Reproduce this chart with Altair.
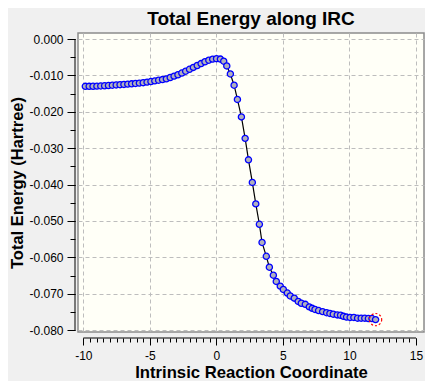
import altair as alt
import pandas as pd

# IRC points
irc_x = [-9.85, -9.56, -9.27, -8.98, -8.69, -8.40, -8.11, -7.82, -7.53, -7.24,
         -6.95, -6.66, -6.37, -6.08, -5.79, -5.50, -5.21, -4.92, -4.63, -4.34,
         -4.05, -3.76, -3.47, -3.18, -2.89, -2.60, -2.31, -2.02, -1.73, -1.44,
         -1.15, -0.86, -0.57, -0.28, 0.01, 0.30, 0.55, 0.78, 1.05, 1.33,
         1.58, 1.88, 2.16, 2.41, 2.70, 2.96, 3.23, 3.43, 3.75, 3.98,
         4.28, 4.50, 4.80, 5.03, 5.33, 5.55, 5.85, 6.15, 6.38, 6.68,
         6.98, 7.20, 7.41, 7.68, 7.98, 8.28, 8.53, 8.78, 9.08, 9.33,
         9.55, 9.78, 10.05, 10.33, 10.61, 10.88, 11.15, 11.42, 11.69, 11.96]
irc_e = [-0.01300, -0.01300, -0.01298, -0.01295, -0.01290, -0.01285, -0.01278, -0.01270, -0.01262, -0.01255,
         -0.01248, -0.01240, -0.01232, -0.01222, -0.01212, -0.01200, -0.01185, -0.01168, -0.01150, -0.01132,
         -0.01115, -0.01095, -0.01058, -0.01020, -0.00982, -0.00935, -0.00885, -0.00832, -0.00780, -0.00728,
         -0.00675, -0.00625, -0.00583, -0.00553, -0.00540, -0.00552, -0.00610, -0.00740, -0.00960, -0.01270,
         -0.01660, -0.02140, -0.02730, -0.03320, -0.03940, -0.04530, -0.05090, -0.05590, -0.05970, -0.06270,
         -0.06490, -0.06660, -0.06790, -0.06880, -0.06980, -0.07060, -0.07120, -0.07210, -0.07260, -0.07290,
         -0.07360, -0.07400, -0.07430, -0.07460, -0.07490, -0.07520, -0.07540, -0.07560, -0.07580, -0.07590,
         -0.07620, -0.07640, -0.07650, -0.07650, -0.07670, -0.07670, -0.07670, -0.07680, -0.07680, -0.07710]

x_major = [-10, -5, 0, 5, 10, 15]
x_minor = [v / 2 for v in range(-20, 31)]
y_major = [0.0, -0.01, -0.02, -0.03, -0.04, -0.05, -0.06, -0.07, -0.08]
y_minor = [-v / 1000 for v in range(0, 81, 5)]

df = pd.DataFrame({"x": irc_x, "e": irc_e})
last = df.tail(1)

FONT = "Liberation Sans"
W, H = 346, 299
xdom = [-10.4, 15.6]
ydom = [-0.0805, 0.00165]

xs = alt.Scale(domain=xdom, nice=False, zero=False)
ys = alt.Scale(domain=ydom, nice=False, zero=False)

x_main = alt.X("x:Q", scale=xs, axis=alt.Axis(
    values=x_major, orient="bottom", offset=6, domain=False, tickSize=7, tickColor="black",
    labelExpr="replace(format(datum.value, 'd'), '\u2212', '-')",
    labelFont=FONT, labelFontSize=12, labelColor="black", labelPadding=5, labelFlush=False,
    grid=True, gridColor="#BDBDBD", gridDash=[4, 3], gridWidth=1,
    title="Intrinsic Reaction Coordinate", titleFont=FONT, titleFontSize=16.7,
    titleFontWeight="bold", titleColor="black", titlePadding=3))
y_main = alt.Y("e:Q", scale=ys, axis=alt.Axis(
    values=y_major, orient="left", offset=3, domain=False, tickSize=8, tickColor="black",
    labelExpr="replace(format(datum.value, '.3f'), '\u2212', '-')",
    labelFont=FONT, labelFontSize=12, labelColor="black", labelPadding=4, labelFlush=False,
    grid=True, gridColor="#BDBDBD", gridDash=[4, 3], gridWidth=1,
    title="Total Energy (Hartree)", titleFont=FONT, titleFontSize=16.5,
    titleFontWeight="bold", titleColor="black", titlePadding=3))

x_min = alt.X("x:Q", scale=xs, axis=alt.Axis(
    values=x_minor, orient="bottom", offset=6, domain=False, tickSize=4, tickColor="black",
    labels=False, grid=False, title=None))
y_min = alt.Y("e:Q", scale=ys, axis=alt.Axis(
    values=y_minor, orient="left", offset=3, domain=False, tickSize=5, tickColor="black",
    labels=False, grid=False, title=None))

line = alt.Chart(df).mark_line(color="black", strokeWidth=1.2).encode(x=x_main, y=y_main)
pts = alt.Chart(df).mark_point(shape="circle", filled=True, fill="#B0B0BC", stroke="#0000FF",
                               strokeWidth=1.3, size=38, opacity=1).encode(x=x_min, y=y_min)
hl = alt.Chart(last).mark_point(shape="circle", filled=False, stroke="#FF0000", strokeWidth=1.2,
                                strokeDash=[2, 2], size=150, opacity=1).encode(
    x=alt.X("x:Q", scale=xs, axis=None), y=alt.Y("e:Q", scale=ys, axis=None))

xline = alt.Chart(df.head(1)).mark_rule(color="black", strokeWidth=1).encode(
    x=alt.X(datum=x_major[0], scale=xs, axis=None), x2=alt.X2(datum=x_major[-1]),
    y=alt.value(H + 6))
yline = alt.Chart(df.head(1)).mark_rule(color="black", strokeWidth=1).encode(
    y=alt.Y(datum=y_major[0], scale=ys, axis=None), y2=alt.Y2(datum=y_major[-1]),
    x=alt.value(-3))

chart = alt.layer(line, pts, hl, xline, yline).resolve_axis(
    x="independent", y="independent"
).properties(
    width=W, height=H,
    title=alt.TitleParams("Total Energy along IRC", font=FONT, fontSize=19, fontWeight="bold",
                          color="black", anchor="middle", baseline="alphabetic", offset=11, dy=22),
    autosize=alt.AutoSizeParams(type="none"),
    padding={"left": 70, "top": 25, "right": 1, "bottom": 49},
    background="#F0F0F0",
).configure_view(stroke="#8C8C8C", strokeWidth=1.5, fill="#FFFFF7")

chart.save("out.html", embed_options={"renderer": "svg", "actions": False})
